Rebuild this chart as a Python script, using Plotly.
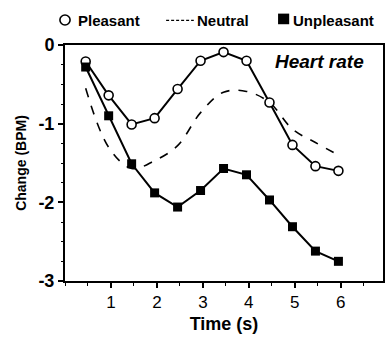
import plotly.graph_objects as go

# Heart-rate change over the viewing interval, per picture category
time_s = [0.45, 0.95, 1.45, 1.95, 2.45, 2.95, 3.45, 3.95, 4.45, 4.95, 5.45, 5.95]
pleasant = [-0.21, -0.64, -1.01, -0.93, -0.56, -0.20, -0.09, -0.20, -0.73, -1.27, -1.54, -1.60]
neutral = [-0.55, -1.30, -1.57, -1.47, -1.28, -0.86, -0.60, -0.59, -0.73, -1.07, -1.24, -1.40]
unpleasant = [-0.28, -0.90, -1.51, -1.88, -2.06, -1.85, -1.57, -1.65, -1.97, -2.31, -2.62, -2.75]

x_ticks = [1, 2, 3, 4, 5, 6]
y_ticks = [0, -1, -2, -3]

FONT = "Liberation Sans, Arial, sans-serif"
INK = "black"

fig = go.Figure()

fig.add_trace(go.Scatter(
    x=time_s, y=neutral, mode="lines", name="Neutral",
    line=dict(color=INK, width=1.6, dash="dash", shape="spline", smoothing=1.0),
))
fig.add_trace(go.Scatter(
    x=time_s, y=pleasant, mode="lines+markers", name="Pleasant",
    line=dict(color=INK, width=2),
    marker=dict(symbol="circle", size=9, color="white", line=dict(color=INK, width=1.6)),
))
fig.add_trace(go.Scatter(
    x=time_s, y=unpleasant, mode="lines+markers", name="Unpleasant",
    line=dict(color=INK, width=2),
    marker=dict(symbol="square", size=9, color=INK, line=dict(color=INK, width=0)),
))

# Legend drawn across the top in paper coordinates
shapes = [
    dict(type="circle", xref="paper", yref="paper",
         x0=-0.016, x1=0.016, y0=1.085, y1=1.127,
         line=dict(color=INK, width=1.6), fillcolor="white"),
    dict(type="line", xref="paper", yref="paper",
         x0=0.318, x1=0.405, y0=1.104, y1=1.104,
         line=dict(color=INK, width=1.3, dash="3px,2px")),
    dict(type="rect", xref="paper", yref="paper",
         x0=0.670, x1=0.705, y0=1.088, y1=1.133,
         line=dict(color=INK, width=0), fillcolor=INK),
]
annotations = [
    dict(text="<b>Pleasant</b>", xref="paper", yref="paper", x=0.035, y=1.104,
         xanchor="left", yanchor="middle", showarrow=False,
         font=dict(family=FONT, size=15, color=INK)),
    dict(text="<b>Neutral</b>", xref="paper", yref="paper", x=0.408, y=1.104,
         xanchor="left", yanchor="middle", showarrow=False,
         font=dict(family=FONT, size=15, color=INK)),
    dict(text="<b>Unpleasant</b>", xref="paper", yref="paper", x=0.712, y=1.104,
         xanchor="left", yanchor="middle", showarrow=False,
         font=dict(family=FONT, size=15, color=INK)),
    dict(text="<b><i>Heart rate</i></b>", xref="paper", yref="paper", x=0.945, y=0.93,
         xanchor="right", yanchor="middle", showarrow=False,
         font=dict(family=FONT, size=19, color=INK)),
]

fig.update_layout(
    width=388, height=339,
    margin=dict(l=65, r=3, t=45, b=58),
    paper_bgcolor="white", plot_bgcolor="white",
    showlegend=False,
    shapes=shapes, annotations=annotations,
    font=dict(family=FONT, color=INK),
)

fig.update_xaxes(
    range=[0, 6.92], tickvals=x_ticks, ticktext=[str(v) for v in x_ticks],
    ticks="outside", ticklen=5, tickwidth=1.5, tickcolor=INK,
    minor=dict(dtick=0.5, tick0=0, ticks="outside", ticklen=3, tickcolor=INK, tickwidth=1.2),
    showline=True, linecolor=INK, linewidth=2, mirror=True,
    showgrid=False, zeroline=False,
    tickfont=dict(family=FONT, size=17, color=INK),
    title=dict(text="<b>Time (s)</b>", font=dict(family=FONT, size=18, color=INK), standoff=6),
)
fig.update_yaxes(
    range=[-3, 0], tickvals=y_ticks, ticktext=["<b>0</b>", "<b>-1</b>", "<b>-2</b>", "<b>-3</b>"],
    ticks="outside", ticklen=5, tickwidth=1.5, tickcolor=INK,
    minor=dict(dtick=0.25, ticks="outside", ticklen=2, tickcolor=INK, tickwidth=1),
    showline=True, linecolor=INK, linewidth=2, mirror=True,
    showgrid=False, zeroline=False,
    tickfont=dict(family=FONT, size=18, color=INK),
    title=dict(text="<b>Change (BPM)</b>", font=dict(family=FONT, size=14, color=INK), standoff=8),
)

fig.write_html("out.html")
